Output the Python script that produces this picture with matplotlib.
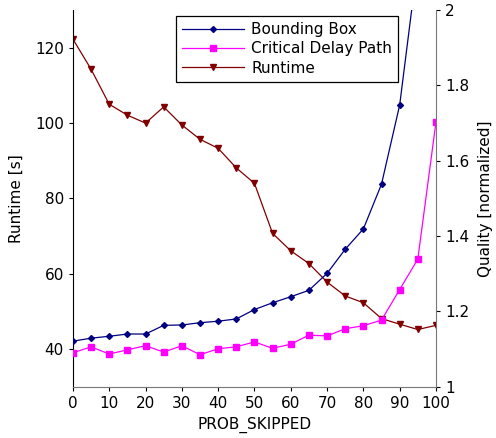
import matplotlib
matplotlib.use("Agg")
import matplotlib.pyplot as plt

prob_skipped = [0, 5, 10, 15, 20, 25, 30, 35, 40, 45, 50,
                55, 60, 65, 70, 75, 80, 85, 90, 95, 100]
runtime = [122.3, 114.3, 105.0, 102.1, 100.0, 104.3, 99.5, 95.7, 93.3, 88.1, 84.0,
           70.7, 66.1, 62.7, 57.8, 54.1, 52.3, 48.1, 46.6, 45.2, 46.3]
bounding_box = [1.121, 1.129, 1.134, 1.140, 1.140, 1.163, 1.164, 1.170, 1.174, 1.180, 1.205,
                1.223, 1.239, 1.256, 1.301, 1.365, 1.419, 1.538, 1.748, 2.13, 2.6]
critical_path = [1.090, 1.106, 1.087, 1.098, 1.109, 1.092, 1.109, 1.085, 1.101, 1.106, 1.119,
                 1.102, 1.113, 1.137, 1.135, 1.154, 1.162, 1.177, 1.258, 1.339, 1.703]

fig = plt.figure(figsize=(4.96, 4.38), dpi=100)
ax = fig.add_axes([0.147, 0.117, 0.732, 0.860])
ax2 = ax.twinx()

l1, = ax2.plot(prob_skipped, bounding_box, color='#000080', marker='D', markersize=3,
               linewidth=0.9, label='Bounding Box')
l2, = ax2.plot(prob_skipped, critical_path, color='#ff00ff', marker='s', markersize=5,
               linewidth=0.9, label='Critical Delay Path')
l3, = ax.plot(prob_skipped, runtime, color='#800000', marker='v', markersize=5,
              linewidth=0.9, label='Runtime')

ax.set_xlim(0, 100)
ax.set_ylim(30, 130)
ax2.set_ylim(1, 2)
ax.set_xticks(range(0, 101, 10))
ax.set_yticks([40, 60, 80, 100, 120])
ax2.set_yticks([1, 1.2, 1.4, 1.6, 1.8, 2])
ax2.set_yticklabels(['1', '1.2', '1.4', '1.6', '1.8', '2'])

for a in (ax, ax2):
    a.spines['top'].set_visible(False)
    a.tick_params(labelsize=11, length=3, width=0.8)
ax2.spines['left'].set_visible(False)
ax.spines['right'].set_visible(False)
ax2.spines['bottom'].set_visible(False)
ax2.spines['right'].set_color('#777777')
ax.spines['bottom'].set_color('#777777')

ax.set_xlabel('PROB_SKIPPED', fontsize=11)
ax.set_ylabel('Runtime [s]', fontsize=11, labelpad=8)
ax2.set_ylabel('Quality [normalized]', fontsize=11, labelpad=6)

leg = ax2.legend([l1, l2, l3], ['Bounding Box', 'Critical Delay Path', 'Runtime'],
                 loc='upper left', bbox_to_anchor=(0.283, 0.984), fontsize=11,
                 fancybox=False, edgecolor='black', framealpha=1,
                 handlelength=4.05, borderpad=0.4, labelspacing=0.28, handletextpad=0.5,
                 borderaxespad=0)
leg.get_frame().set_linewidth(0.9)

fig.savefig('out.png', dpi=100)
